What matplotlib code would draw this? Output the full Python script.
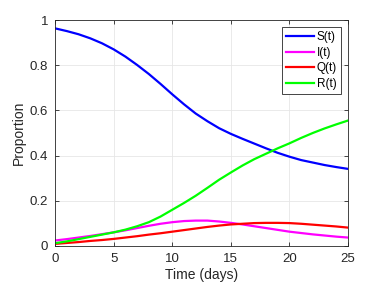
import matplotlib
matplotlib.use('Agg')
import matplotlib.pyplot as plt
import numpy as np

plt.rcParams['font.family'] = ['Liberation Sans', 'DejaVu Sans']

days = list(range(26))
s_vals = [0.963, 0.951, 0.937, 0.919, 0.897, 0.870, 0.838, 0.801, 0.761, 0.717,
          0.671, 0.627, 0.586, 0.552, 0.521, 0.496, 0.474, 0.453, 0.432, 0.412,
          0.395, 0.380, 0.369, 0.358, 0.349, 0.341]
i_vals = [0.024, 0.030, 0.037, 0.044, 0.052, 0.060, 0.069, 0.079, 0.089, 0.098,
          0.105, 0.110, 0.112, 0.112, 0.108, 0.102, 0.095, 0.087, 0.079, 0.071,
          0.063, 0.057, 0.051, 0.046, 0.041, 0.037]
q_vals = [0.009, 0.013, 0.017, 0.022, 0.026, 0.031, 0.037, 0.043, 0.050, 0.056,
          0.063, 0.070, 0.077, 0.084, 0.090, 0.095, 0.098, 0.101, 0.102, 0.102,
          0.101, 0.098, 0.094, 0.090, 0.086, 0.081]
r_vals = [0.012, 0.020, 0.030, 0.040, 0.050, 0.060, 0.072, 0.087, 0.105, 0.130,
          0.160, 0.190, 0.222, 0.257, 0.293, 0.325, 0.356, 0.384, 0.408, 0.432,
          0.454, 0.478, 0.500, 0.520, 0.538, 0.555]

fig = plt.figure(figsize=(3.75, 2.82), dpi=100)
ax = fig.add_axes([0.147, 0.128, 0.781, 0.801])

ax.plot(days, s_vals, color='#0000ff', lw=1.6, label='S(t)')
ax.plot(days, i_vals, color='#ff00ff', lw=1.6, label='I(t)')
ax.plot(days, q_vals, color='#ff0000', lw=1.6, label='Q(t)')
ax.plot(days, r_vals, color='#00ff00', lw=1.6, label='R(t)')

ax.set_xlim(0, 25)
ax.set_ylim(0, 1)
ax.set_xticks([0, 5, 10, 15, 20, 25])
ax.set_yticks([0, 0.2, 0.4, 0.6, 0.8, 1])
ax.set_yticklabels(['0', '0.2', '0.4', '0.6', '0.8', '1'])
ax.grid(True, color='#e6e6e6', lw=0.6)
ax.set_axisbelow(True)
ax.tick_params(direction='in', top=True, right=True, length=3, width=0.6,
               colors='#262626', labelsize=9.5, pad=5)
for sp in ax.spines.values():
    sp.set_color('#262626')
    sp.set_linewidth(0.6)
ax.set_xlabel('Time (days)', fontsize=10, color='#262626', labelpad=2.5)
ax.set_ylabel('Proportion', fontsize=10, color='#262626', labelpad=3)

leg = ax.legend(loc='upper right', fontsize=8.5, handlelength=2.3, handletextpad=0.25,
                labelspacing=0.3, borderpad=0.35, fancybox=False, framealpha=1,
                borderaxespad=0.6)
leg.get_frame().set_edgecolor('#262626')
leg.get_frame().set_linewidth(0.6)

fig.savefig('out.png', dpi=100)
